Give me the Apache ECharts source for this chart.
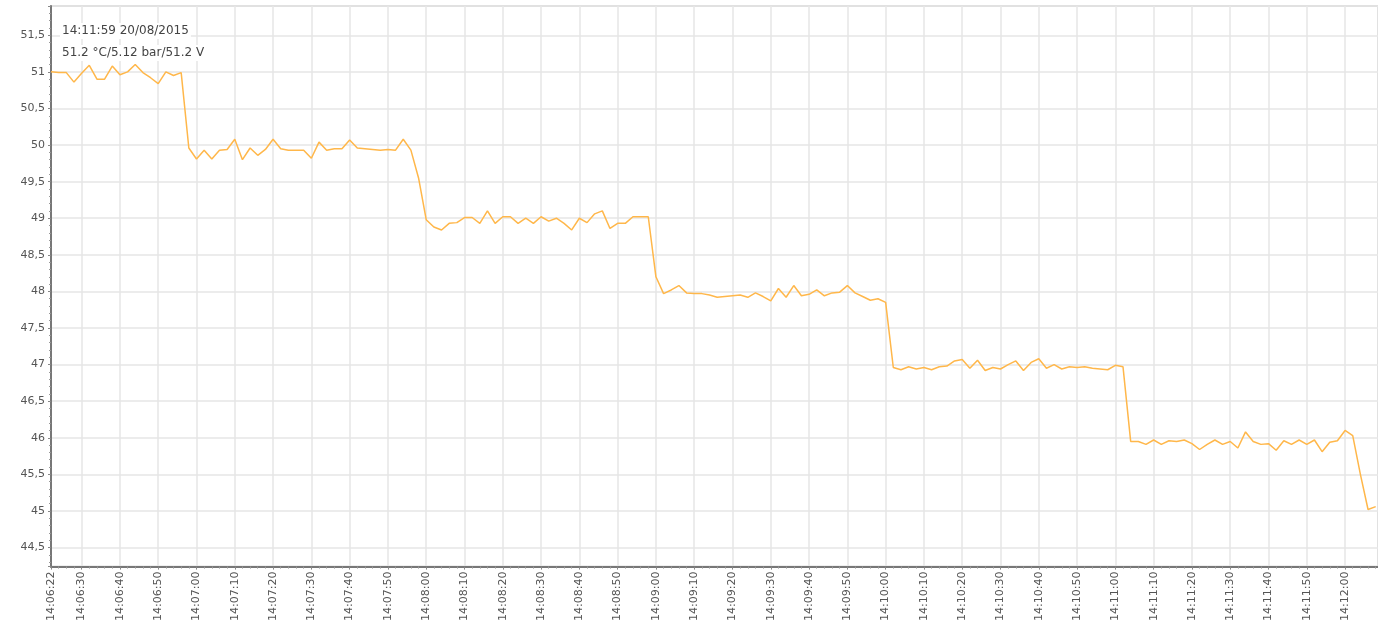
<!DOCTYPE html>
<html>
<head>
<meta charset="utf-8">
<script src="https://cdn.jsdelivr.net/npm/echarts@6/dist/echarts.min.js"></script>
<style>
html,body{margin:0;padding:0;background:#fff;}
#chart{width:1378px;height:624px;}
</style>
</head>
<body>
<div id="chart"></div>
<script>
// samples every 2 s, starting at 14:06:22 (seconds counted from 14:06:00)
var startSec = 22;
var stepSec = 2;
var seg51 = [51.0, 50.99, 50.99, 50.86, 50.98, 51.09, 50.9, 50.9, 51.08, 50.96, 51.0, 51.1, 50.99, 50.92, 50.84, 51.0, 50.95, 50.99];
var seg50 = [49.96, 49.81, 49.93, 49.81, 49.93, 49.94, 50.08, 49.8, 49.96, 49.86, 49.94, 50.08, 49.95, 49.93, 49.93, 49.93, 49.82, 50.04, 49.93, 49.95, 49.95, 50.07, 49.96, 49.95, 49.94, 49.93, 49.94, 49.93, 50.08, 49.93];
var seg49 = [49.55, 48.98, 48.88, 48.84, 48.93, 48.94, 49.01, 49.01, 48.93, 49.1, 48.93, 49.02, 49.02, 48.93, 49.0, 48.93, 49.02, 48.96, 49.0, 48.93, 48.84, 49.0, 48.94, 49.06, 49.1, 48.86, 48.93, 48.93, 49.02, 49.02, 49.02];
var seg48 = [48.2, 47.97, 48.02, 48.08, 47.98, 47.97, 47.97, 47.95, 47.92, 47.93, 47.94, 47.95, 47.92, 47.98, 47.93, 47.87, 48.04, 47.92, 48.08, 47.94, 47.96, 48.02, 47.94, 47.98, 47.99, 48.08, 47.98, 47.93, 47.88, 47.9, 47.85];
var seg47 = [46.96, 46.93, 46.97, 46.94, 46.96, 46.93, 46.97, 46.98, 47.05, 47.07, 46.95, 47.06, 46.92, 46.96, 46.94, 47.0, 47.05, 46.92, 47.03, 47.08, 46.95, 47.0, 46.94, 46.97, 46.96, 46.97, 46.95, 46.94, 46.93, 46.99, 46.97];
var seg46 = [45.95, 45.95, 45.91, 45.97, 45.91, 45.96, 45.95, 45.97, 45.92, 45.84, 45.91, 45.97, 45.91, 45.95, 45.86, 46.08, 45.95, 45.91, 45.92, 45.83, 45.96, 45.91, 45.97, 45.91, 45.97, 45.81, 45.94, 45.96, 46.1, 46.03];
var seg45 = [45.5, 45.02, 45.06];

var headerText = '14:11:59 20/08/2015';
var readingText = '51.2 °C/5.12 bar/51.2 V';

var values = [].concat(seg51, seg50, seg49, seg48, seg47, seg46, seg45);
var points = [];
for (var i = 0; i < values.length; i++) {
	points.push([startSec + i * stepSec, values[i]]);
}

function pad(n) { return (n < 10 ? '0' : '') + n; }
function timeLabel(v) {
	var total = 6 * 60 + Math.floor(v + 0.001);
	return '14:' + pad(Math.floor(total / 60)) + ':' + pad(total % 60);
}

var chart = echarts.init(document.getElementById('chart'));
chart.setOption({
	animation: false,
	backgroundColor: '#fff',
	grid: {
		left: 51, right: -2, top: 6, bottom: 57,
		show: true, borderColor: '#c4c4c4', borderWidth: 1.5
	},
	graphic: [
		{ type: 'text', left: 60, top: 23, z: 100, style: { text: headerText, fill: '#444', font: '12px "DejaVu Sans"', backgroundColor: '#fff', padding: [2, 2, 2, 2] } },
		{ type: 'text', left: 60, top: 45, z: 100, style: { text: readingText, fill: '#444', font: '12px "DejaVu Sans"', backgroundColor: '#fff', padding: [2, 2, 2, 2] } }
	],
	xAxis: {
		type: 'value',
		min: 22,
		max: 368.6,
		splitNumber: 34,
		minInterval: 10,
		maxInterval: 10,
		axisLine: { lineStyle: { color: '#777', width: 2 } },
		axisTick: { show: true, length: 3, lineStyle: { color: '#888' } },
		minorTick: { show: true, splitNumber: 5, length: 2, lineStyle: { color: '#999' } },
		splitLine: { show: true, lineStyle: { color: '#e6e6e6', width: 1.5 } },
		axisLabel: {
			rotate: 90, fontSize: 11, color: '#555', margin: 5,
			fontFamily: 'DejaVu Sans',
			showMinLabel: true, showMaxLabel: false,
			formatter: timeLabel
		}
	},
	yAxis: {
		type: 'value',
		min: 44.24,
		max: 51.9,
		splitNumber: 15,
		axisLine: { show: true, lineStyle: { color: '#777', width: 2 } },
		axisTick: { show: true, length: 3, lineStyle: { color: '#888' } },
		minorTick: { show: true, splitNumber: 5, length: 2, lineStyle: { color: '#999' } },
		splitLine: { show: true, lineStyle: { color: '#e6e6e6', width: 1.5 } },
		axisLabel: {
			fontSize: 11, color: '#555', margin: 6,
			fontFamily: 'DejaVu Sans',
			showMinLabel: false, showMaxLabel: false,
			formatter: function (v) { return String(v).replace('.', ','); }
		}
	},
	series: [{
		type: 'line',
		data: points,
		showSymbol: false,
		symbol: 'none',
		lineStyle: { color: '#ffb74a', width: 1.5 },
		clip: true
	}]
});
</script>
</body>
</html>
